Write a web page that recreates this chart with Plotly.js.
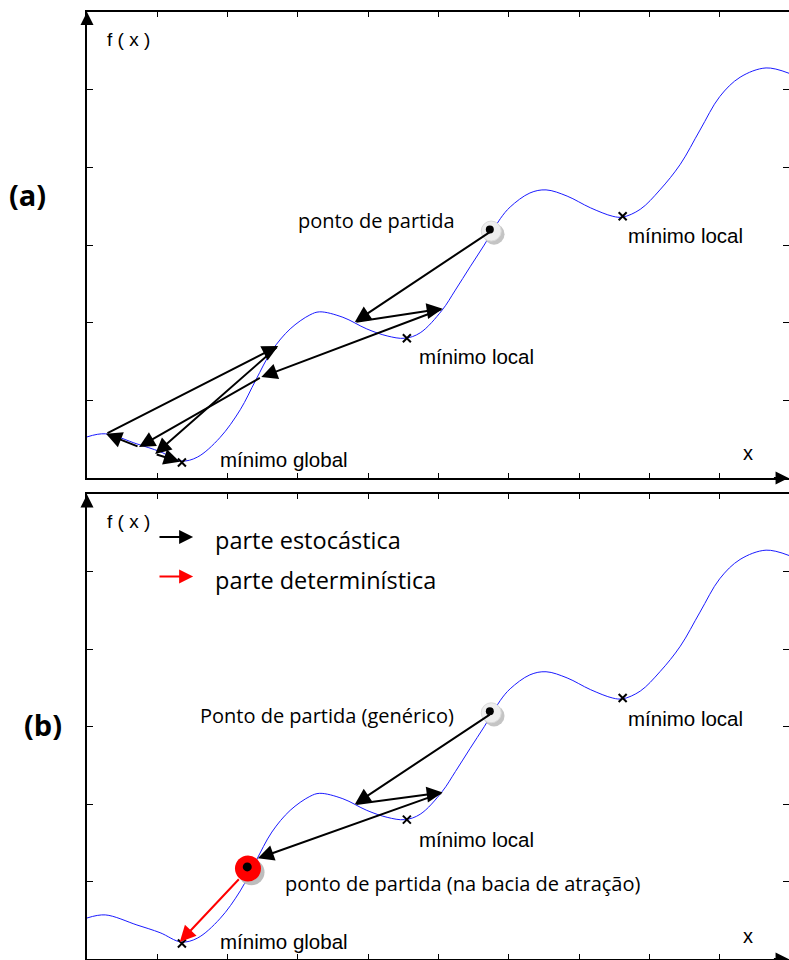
<!DOCTYPE html>
<html>
<head>
<meta charset="utf-8">
<script src="https://cdn.plot.ly/plotly-3.0.1.min.js"></script>
<style>html,body{margin:0;padding:0;background:#fff;}#chart{width:789px;height:960px;}</style>
</head>
<body>
<div id="chart"></div>
<script>
// ---- function f(x) (same in both panels) ----
const curveX = [0, 0.26, 0.71, 1.04, 1.34, 1.57, 1.89, 2.18, 2.40, 2.63, 2.89, 3.17, 3.31, 3.64, 3.98, 4.27, 4.52, 4.74, 5.05, 5.24, 5.45, 5.65, 5.88, 6.02, 6.30, 6.53, 6.83, 7.16, 7.48, 7.62, 7.87, 8.15, 8.44, 8.72, 9.00, 9.29, 9.66, 9.99];
const curveY = [0.53, 0.57, 0.44, 0.34, 0.22, 0.27, 0.52, 0.88, 1.26, 1.64, 1.92, 2.10, 2.14, 2.07, 1.92, 1.83, 1.80, 1.87, 2.16, 2.42, 2.72, 3.00, 3.34, 3.49, 3.67, 3.71, 3.63, 3.48, 3.37, 3.36, 3.46, 3.71, 4.04, 4.48, 4.91, 5.16, 5.28, 5.21];

// minima (x markers)
const minX = [1.35, 4.55, 7.62];
const minY = [0.20, 1.80, 3.37];

// starting point
const startX = [5.75];
const startY = [3.18];

// stochastic path, panel (a)
const pathAx = [5.75, 3.81, 5.06, 2.48, 0.74, 0.27, 2.72, 0.97, 1.32];
const pathAy = [3.18, 2.01, 2.18, 1.30, 0.40, 0.57, 1.70, 0.31, 0.21];

// stochastic path, panel (b)
const pathBx = [5.75, 3.81, 5.06, 2.43];
const pathBy = [3.17, 2.00, 2.15, 1.30];

// basin-of-attraction start point and deterministic step, panel (b)
const basinX = [2.29];
const basinY = [1.17];
const detFromX = 2.18, detFromY = 1.05, detToX = 1.32, detToY = 0.22;

// texts
const labelsA = [
  {t: 'ponto de partida', x: 2.97, y: 3.32, f: 'Open Sans', s: 20},
  {t: 'mínimo local', x: 7.67, y: 3.12, f: 'Liberation Sans', s: 20.5},
  {t: 'mínimo local', x: 4.69, y: 1.57, f: 'Liberation Sans', s: 20.5},
  {t: 'mínimo global', x: 1.86, y: 0.245, f: 'Liberation Sans', s: 20.5},
  {t: 'f ( x )', x: 0.25, y: 5.64, f: 'Liberation Sans', s: 19},
  {t: 'x', x: 9.3, y: 0.32, f: 'Liberation Sans', s: 20}
];
const labelsB = [
  {t: 'Ponto de partida (genérico)', x: 1.58, y: 3.15, f: 'Open Sans', s: 20},
  {t: 'mínimo local', x: 7.67, y: 3.11, f: 'Liberation Sans', s: 20.5},
  {t: 'mínimo local', x: 4.69, y: 1.54, f: 'Liberation Sans', s: 20.5},
  {t: 'ponto de partida (na bacia de atração)', x: 2.79, y: 0.97, f: 'Open Sans', s: 20},
  {t: 'mínimo global', x: 1.86, y: 0.23, f: 'Liberation Sans', s: 20.5},
  {t: 'f ( x )', x: 0.25, y: 5.65, f: 'Liberation Sans', s: 19},
  {t: 'x', x: 9.3, y: 0.30, f: 'Liberation Sans', s: 20}
];
const legendNames = ['parte estocástica', 'parte determinística'];
const legendColors = ['#000000', '#ff0000'];
const legendY = [5.45, 4.94];

// ---- build ----
const traces = [];
function panel(xa, ya) {
  traces.push({x: curveX, y: curveY, xaxis: xa, yaxis: ya, mode: 'lines',
    line: {color: '#1a1aff', width: 1, shape: 'spline', smoothing: 1}, hoverinfo: 'skip'});
  traces.push({x: minX, y: minY, xaxis: xa, yaxis: ya, mode: 'markers',
    marker: {symbol: 'x-thin', size: 8, line: {color: '#000', width: 2}}, hoverinfo: 'skip'});
}
panel('x', 'y');
panel('x2', 'y2');

function startMarker(xa, ya) {
  traces.push({x: startX.map(v => v + 0.04), y: startY.map(v => v - 0.04), xaxis: xa, yaxis: ya, mode: 'markers',
    marker: {size: 21, color: '#c4c4c4'}, hoverinfo: 'skip'});
  traces.push({x: startX, y: startY, xaxis: xa, yaxis: ya, mode: 'markers',
    marker: {size: 20, color: '#eeeeee', line: {color: '#dadada', width: 1}}, hoverinfo: 'skip'});
  traces.push({x: startX.map(v => v - 0.02), y: startY.map(v => v + 0.02), xaxis: xa, yaxis: ya, mode: 'markers',
    marker: {size: 8, color: '#000'}, hoverinfo: 'skip'});
}
startMarker('x', 'y');
startMarker('x2', 'y2');

// red basin marker
traces.push({x: basinX.map(v => v + 0.05), y: basinY.map(v => v - 0.05), xaxis: 'x2', yaxis: 'y2', mode: 'markers',
  marker: {size: 26, color: '#bdbdbd'}, hoverinfo: 'skip'});
traces.push({x: basinX, y: basinY, xaxis: 'x2', yaxis: 'y2', mode: 'markers',
  marker: {size: 26, color: '#ff0000'}, hoverinfo: 'skip'});
traces.push({x: basinX.map(v => v - 0.01), y: basinY.map(v => v + 0.02), xaxis: 'x2', yaxis: 'y2', mode: 'markers',
  marker: {size: 9, color: '#000'}, hoverinfo: 'skip'});

const ann = [];
function arrow(xr, yr, x0, y0, x1, y1, color, size) {
  ann.push({xref: xr, yref: yr, axref: xr, ayref: yr, x: x1, y: y1, ax: x0, ay: y0, text: '',
    showarrow: true, arrowhead: 2, arrowsize: size || 1.6, arrowwidth: 2, arrowcolor: color, standoff: 0, startstandoff: 0});
}
for (let i = 0; i < pathAx.length - 1; i++) arrow('x', 'y', pathAx[i], pathAy[i], pathAx[i + 1], pathAy[i + 1], '#000');
for (let i = 0; i < pathBx.length - 1; i++) arrow('x2', 'y2', pathBx[i], pathBy[i], pathBx[i + 1], pathBy[i + 1], '#000');
arrow('x2', 'y2', detFromX, detFromY, detToX, detToY, '#ff0000');

// legend (panel b)
for (let i = 0; i < legendNames.length; i++) {
  arrow('x2', 'y2', 1.01, legendY[i], 1.51, legendY[i], legendColors[i], 1.4);
  ann.push({xref: 'x2', yref: 'y2', x: 1.79, y: legendY[i] - 0.04, text: legendNames[i], showarrow: false,
    xanchor: 'left', yanchor: 'middle', font: {family: 'Open Sans', size: 23.5, color: '#000'}});
}

// axis arrows
['', '2'].forEach(s => {
  const xr = 'x' + s, yr = 'y' + s;
  ann.push({xref: xr, yref: yr, axref: xr, ayref: yr, x: 0, y: 6, ax: 0, ay: 5.86, text: '', showarrow: true,
    arrowhead: 2, arrowsize: 1.3, arrowwidth: 2, arrowcolor: '#000', standoff: 0});
  ann.push({xref: xr, yref: yr, axref: xr, ayref: yr, x: 9.98, y: 0, ax: 9.75, ay: 0, text: '', showarrow: true,
    arrowhead: 2, arrowsize: 1.3, arrowwidth: 2, arrowcolor: '#000', standoff: 0});
});

function texts(list, xr, yr) {
  list.forEach(l => ann.push({xref: xr, yref: yr, x: l.x, y: l.y, text: l.t, showarrow: false,
    xanchor: 'left', yanchor: 'middle', font: {family: l.f, size: l.s, color: '#000'}}));
}
texts(labelsA, 'x', 'y');
texts(labelsB, 'x2', 'y2');

ann.push({xref: 'paper', yref: 'paper', x: 0.035, y: 0.797, text: '<b>(a)</b>', showarrow: false,
  xanchor: 'center', yanchor: 'middle', font: {family: 'Open Sans', size: 29, color: '#000'}});
ann.push({xref: 'paper', yref: 'paper', x: 0.054, y: 0.245, text: '<b>(b)</b>', showarrow: false,
  xanchor: 'center', yanchor: 'middle', font: {family: 'Open Sans', size: 29, color: '#000'}});

const xCommon = {range: [0, 9.986], dtick: 1, tick0: 0, ticks: 'inside', ticklen: 5, tickwidth: 1, tickcolor: '#000',
  showticklabels: false, showgrid: false, zeroline: false, showline: true, linecolor: '#000', linewidth: 2,
  mirror: 'ticks', fixedrange: true};
const yCommon = {range: [0, 6], dtick: 1, tick0: 0, ticks: 'inside', ticklen: 6, tickwidth: 1, tickcolor: '#000',
  showticklabels: false, showgrid: false, zeroline: false, showline: true, linecolor: '#000', linewidth: 2,
  mirror: 'ticks', fixedrange: true};

const layout = {
  width: 789, height: 960, margin: {l: 0, r: 0, t: 0, b: 0}, showlegend: false,
  paper_bgcolor: '#fff', plot_bgcolor: '#fff',
  xaxis: Object.assign({}, xCommon, {domain: [87 / 789, 1], anchor: 'y'}),
  yaxis: Object.assign({}, yCommon, {domain: [0.502, 0.9875], anchor: 'x'}),
  xaxis2: Object.assign({}, xCommon, {domain: [87 / 789, 1], anchor: 'y2'}),
  yaxis2: Object.assign({}, yCommon, {domain: [0.001, 0.485], anchor: 'x2'}),
  annotations: ann
};
Plotly.newPlot('chart', traces, layout, {staticPlot: true});
</script>
</body>
</html>
